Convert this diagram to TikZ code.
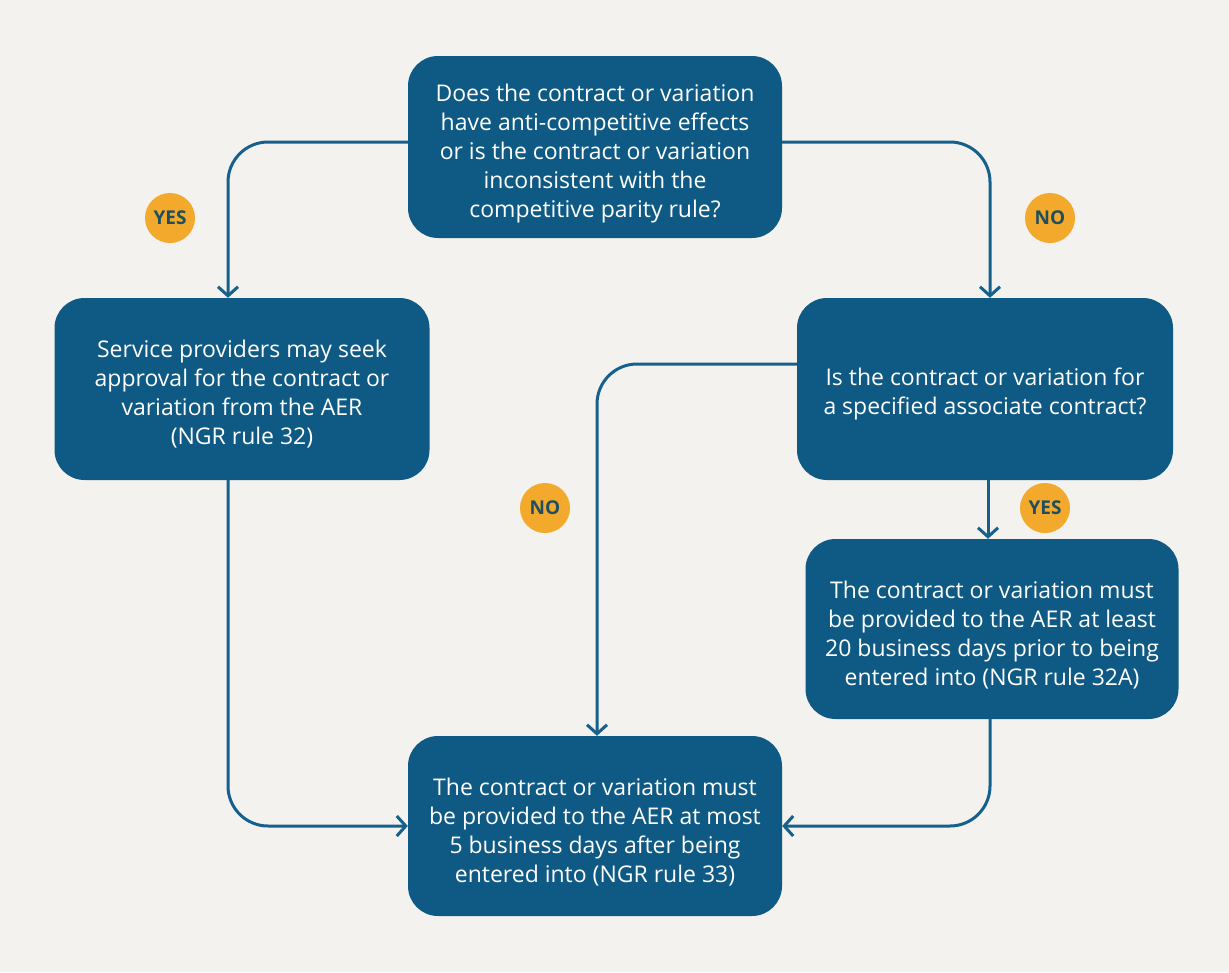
\documentclass[tikz,border=0pt]{standalone}
\usepackage{fontspec}
\setmainfont{Open Sans}
\usetikzlibrary{arrows.meta}
\definecolor{bgc}{HTML}{F3F2EE}
\definecolor{boxc}{HTML}{0F5A85}
\definecolor{linec}{HTML}{16608E}
\definecolor{badgec}{HTML}{F3A92C}
\definecolor{badgetext}{HTML}{1F4F5F}
\tikzset{
  box/.style={rectangle, rounded corners=30pt, fill=boxc, inner sep=0pt},
  boxtext/.style={text=white, align=center, inner sep=0pt,
    font=\fontsize{23pt}{29pt}\selectfont},
  conn/.style={draw=linec, line width=3pt, rounded corners=40pt,
    -{Straight Barb[length=9pt,width=20pt,line width=3pt]}},
  badge/.style={circle, fill=badgec, text=badgetext, minimum size=50pt, inner sep=0pt,
    font=\fontsize{19pt}{20pt}\selectfont\bfseries}
}
\begin{document}
\begin{tikzpicture}[x=1pt,y=-1pt]
\useasboundingbox (0,0) rectangle (1229,972);
\fill[bgc] (0,0) rectangle (1229,972);

\node[box, minimum width=374pt, minimum height=182pt] (q1) at (595,147) {};
\node[boxtext] (q1t) at (595,154)
  {Does the contract or variation\\have anti-competitive effects\\or is the contract or variation\\inconsistent with the\\competitive parity rule?};
\node[box, minimum width=375pt, minimum height=182pt] (left) at (242,389) {};
\node[boxtext] (leftt) at (242,394)
  {Service providers may seek\\approval for the contract or\\variation from the AER\\(NGR rule 32)};
\node[box, minimum width=376pt, minimum height=182pt] (q2) at (985,389) {};
\node[boxtext] (q2t) at (985,394)
  {Is the contract or variation for\\a specified associate contract?};
\node[box, minimum width=373pt, minimum height=180pt] (r2) at (992,629) {};
\node[boxtext] (r2t) at (992,635)
  {The contract or variation must\\be provided to the AER at least\\20 business days prior to being\\entered into (NGR rule 32A)};
\node[box, minimum width=374pt, minimum height=180pt] (bot) at (595,826) {};
\node[boxtext] (bott) at (595,832)
  {The contract or variation must\\be provided to the AER at most\\5 business days after being\\entered into (NGR rule 33)};

\node[badge] (yes1) at (170,218) {YES};
\node[badge] (no1) at (1050,218) {NO};
\node[badge] (no2) at (545,508) {NO};
\node[badge] (yes2) at (1045,508) {YES};

\draw[conn] ([yshift=5pt]q1.west) -| ([xshift=-14pt]left.north);
\draw[conn] ([yshift=5pt]q1.east) -| ([xshift=5pt]q2.north);
\draw[conn] ([yshift=25pt]q2.west) -| ([xshift=2pt]bot.north);
\draw[conn] ([xshift=3pt]q2.south) -- ([xshift=3pt]q2.south |- r2.north);
\draw[conn] ([xshift=-14pt]left.south) |- (bot.west);
\draw[conn] ([xshift=-2pt]r2.south) |- (bot.east);
\end{tikzpicture}
\end{document}
